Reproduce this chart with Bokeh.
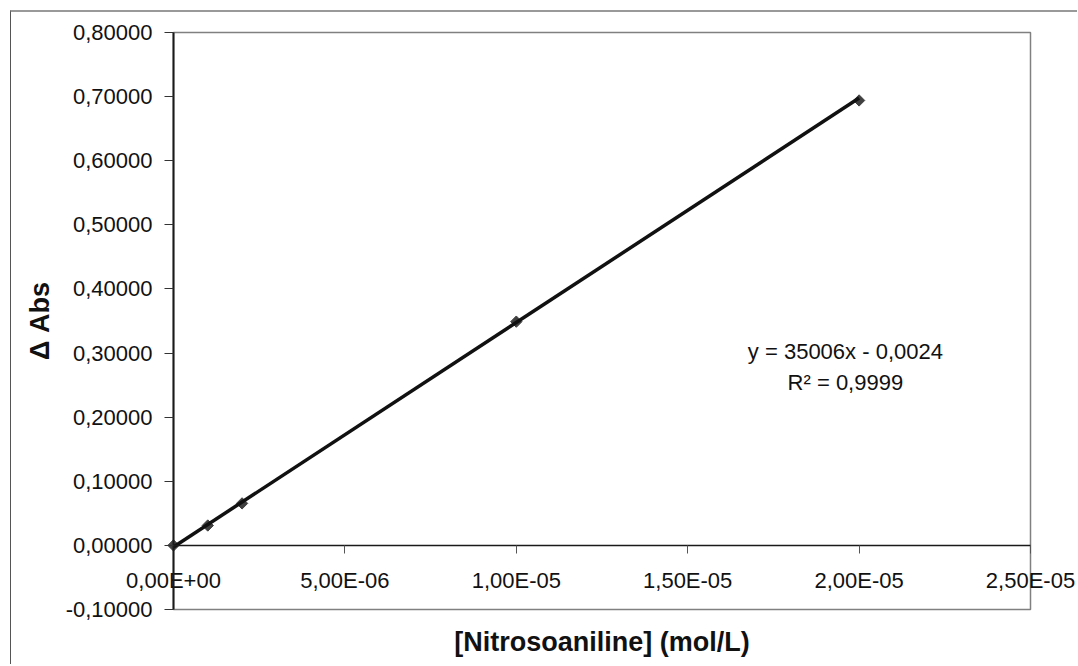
import numpy as np
from bokeh.plotting import figure
from bokeh.models import (Range1d, FixedTicker, CustomJSTickFormatter, LinearAxis, Label)
from bokeh.embed import file_html
from bokeh.resources import INLINE

# ---- data ----
concentration = [0.0, 1e-6, 2e-6, 1e-5, 2e-5]          # mol/L
delta_abs = [0.0, 0.031, 0.0655, 0.349, 0.694]

fit_slope = 35006.0
fit_intercept = -0.0024
fit_text_1 = "y = 35006x - 0,0024"
fit_text_2 = "R² = 0,9999"

x_ticks = [0.0, 5e-6, 1e-5, 1.5e-5, 2e-5, 2.5e-5]
x_tick_labels = ["0,00E+00", "5,00E-06", "1,00E-05", "1,50E-05", "2,00E-05", "2,50E-05"]
y_ticks = [-0.1, 0.0, 0.1, 0.2, 0.3, 0.4, 0.5, 0.6, 0.7, 0.8]
y_tick_labels = ["-0,10000", "0,00000", "0,10000", "0,20000", "0,30000", "0,40000",
                 "0,50000", "0,60000", "0,70000", "0,80000"]

x_title = "[Nitrosoaniline] (mol/L)"
y_title = "\u0394 Abs"

FONT = "Liberation Sans"

# ---- layout (page pixels) ----
CANVAS_X0, CANVAS_Y0 = 11, 12           # canvas origin on the page
W, H = 1067, 654                         # canvas size
AREA_L, AREA_R, AREA_T, AREA_B = 173, 1030, 32, 609   # plot-area box on the page

x_min, x_max = x_ticks[0], x_ticks[-1]
y_min, y_max = y_ticks[0], y_ticks[-1]
dx = (x_max - x_min) / (AREA_R - AREA_L)
dy = (y_max - y_min) / (AREA_B - AREA_T)
x_lo = x_min - (AREA_L - CANVAS_X0) * dx
x_hi = x_max + (CANVAS_X0 + W - AREA_R) * dx
y_hi = y_max + (AREA_T - CANVAS_Y0) * dy
y_lo = y_min - (CANVAS_Y0 + H - AREA_B) * dy

p = figure(width=W, height=H, output_backend="svg", toolbar_location=None,
           x_range=Range1d(x_lo, x_hi), y_range=Range1d(y_lo, y_hi),
           min_border=0, x_axis_location=None, y_axis_location=None)
p.styles = {"margin-left": "10px", "margin-top": "10px",
            "border-left": "1px solid #555555", "border-top": "2px solid #999999"}
p.background_fill_color = "white"
p.border_fill_color = "white"
p.outline_line_color = None
p.xgrid.visible = False
p.ygrid.visible = False

fmt_code = """
for (let i = 0; i < tvals.length; i++) {
  if (Math.abs(tick - tvals[i]) <= 1e-9 * tscale) { return tlabels[i]; }
}
return "";
"""

# plot-area box
p.quad(left=[x_min], right=[x_max], bottom=[y_min], top=[y_max],
       fill_color=None, line_color="#808080", line_width=1.5)

# y axis at x = 0
ya = LinearAxis(fixed_location=x_min, bounds=(y_min, y_max))
ya.ticker = FixedTicker(ticks=y_ticks)
ya.formatter = CustomJSTickFormatter(args=dict(tvals=y_ticks, tlabels=y_tick_labels, tscale=1.0), code=fmt_code)
ya.major_tick_out = 9
ya.major_tick_in = 0
ya.minor_tick_out = 0
ya.minor_tick_in = 0
ya.axis_line_color = "#1a1a1a"
ya.axis_line_width = 2
ya.major_tick_line_color = "#333333"
ya.major_tick_line_width = 1
ya.major_label_standoff = 12
ya.major_label_text_font = FONT
ya.major_label_text_font_size = "22px"
ya.major_label_text_color = "#111111"
ya.axis_label = y_title
ya.axis_label_text_font = FONT
ya.axis_label_text_font_size = "27px"
ya.axis_label_text_font_style = "bold"
ya.axis_label_text_color = "#111111"
ya.axis_label_standoff = 8
p.add_layout(ya, "left")

# x axis crossing at y = 0
xa = LinearAxis(fixed_location=0.0, bounds=(x_min, x_max))
xa.ticker = FixedTicker(ticks=x_ticks)
xa.formatter = CustomJSTickFormatter(args=dict(tvals=x_ticks, tlabels=x_tick_labels, tscale=1e-5), code=fmt_code)
xa.major_tick_out = 8
xa.major_tick_in = 0
xa.minor_tick_out = 0
xa.minor_tick_in = 0
xa.axis_line_color = "#1a1a1a"
xa.axis_line_width = 1.5
xa.major_tick_line_color = "#555555"
xa.major_tick_line_width = 1
xa.major_label_standoff = 15
xa.major_label_text_font = FONT
xa.major_label_text_font_size = "22px"
xa.major_label_text_color = "#111111"
xa.axis_label = x_title
xa.axis_label_text_font = FONT
xa.axis_label_text_font_size = "27px"
xa.axis_label_text_font_style = "bold"
xa.axis_label_text_color = "#111111"
xa.axis_label_standoff = 30
p.add_layout(xa, "below")

# data markers
p.scatter(concentration, delta_abs, marker="square", angle=np.pi / 4, size=8,
          fill_color="#404040", line_color="#404040", line_width=1)

# linear trendline over the data range
x_fit = [min(concentration), max(concentration)]
y_fit = [fit_slope * v + fit_intercept for v in x_fit]
p.line(x_fit, y_fit, line_color="#111111", line_width=3.5)

# equation labels
p.add_layout(Label(x=1.96e-5, y=0.303, text=fit_text_1, text_align="center", text_baseline="middle",
                   text_font=FONT, text_font_size="22px", text_color="#111111"))
p.add_layout(Label(x=1.96e-5, y=0.254, text=fit_text_2, text_align="center", text_baseline="middle",
                   text_font=FONT, text_font_size="22px", text_color="#111111"))

open("out.html", "w").write(file_html(p, INLINE))
